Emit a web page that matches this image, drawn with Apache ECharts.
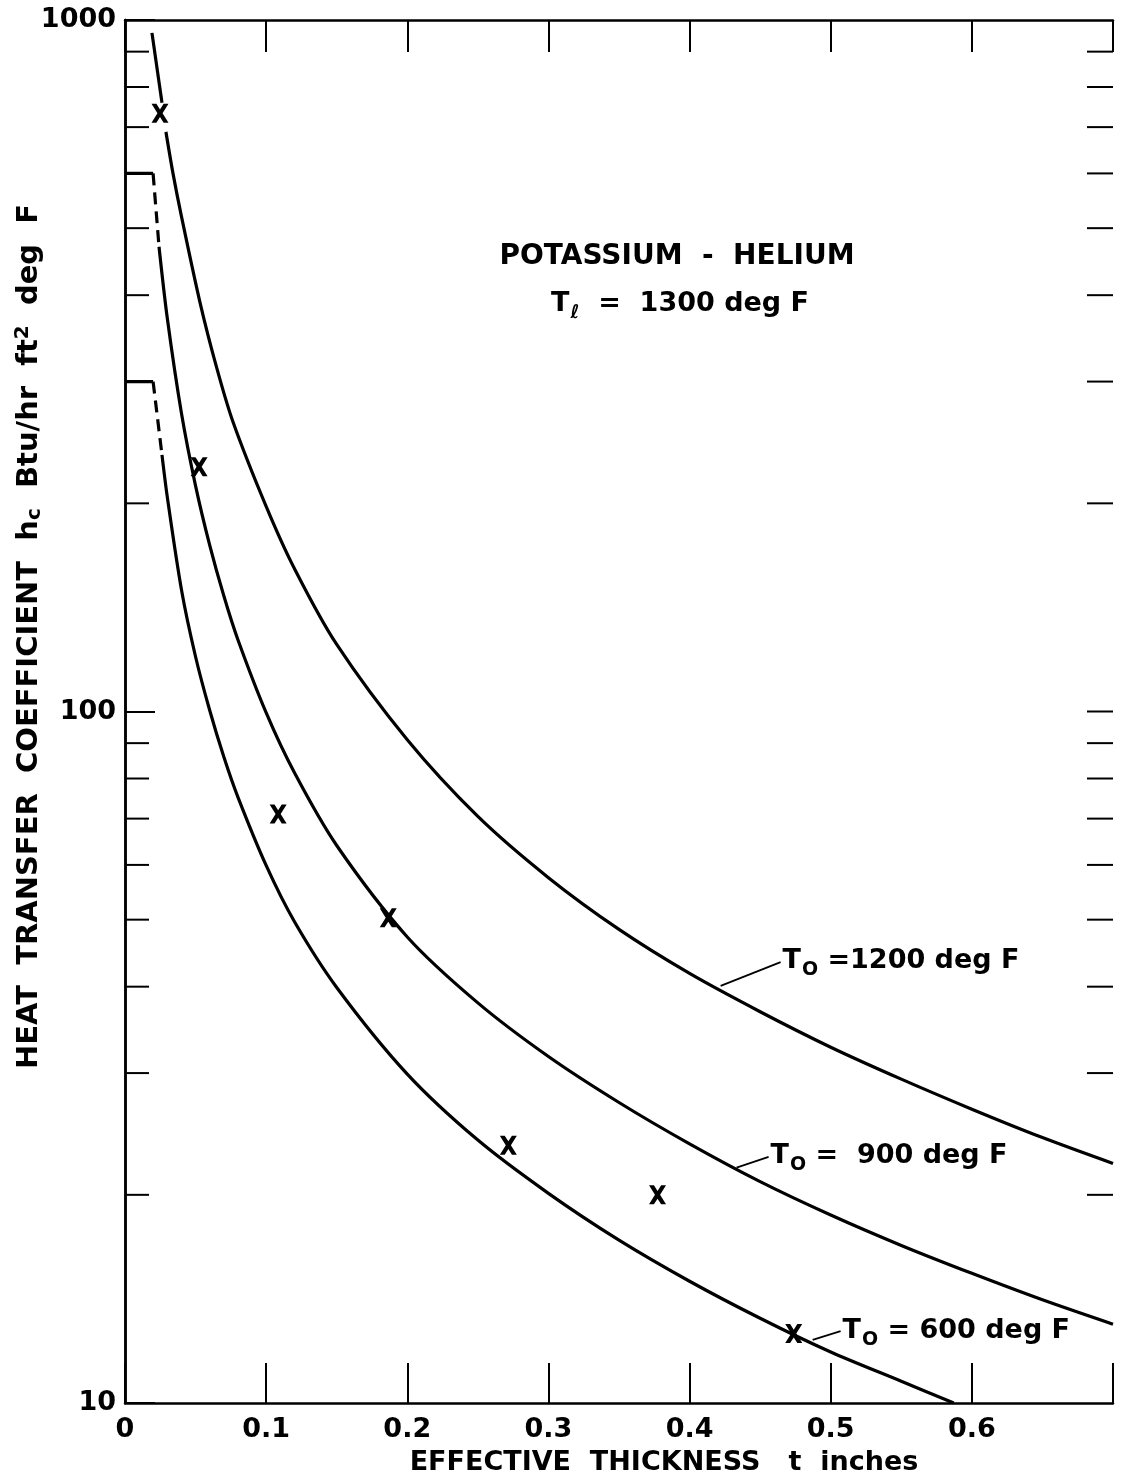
<!DOCTYPE html>
<html>
<head>
<meta charset="utf-8">
<script src="https://cdn.jsdelivr.net/npm/echarts@6/dist/echarts.min.js"></script>
<style>
  html, body { margin: 0; padding: 0; background: #fff; }
  #main { width: 1121px; height: 1483px; }
</style>
</head>
<body>
<div id="main"></div>
<script>
// effective thickness t (inches) vs heat transfer coefficient h_c
var curve1200Top = [[0.0191, 958], [0.0262, 759]];
var curve1200 = [[0.029, 689], [0.034, 600], [0.04, 520], [0.0532, 390], [0.065, 314],
  [0.0766, 262], [0.1, 198], [0.12, 161], [0.15, 125], [0.2, 91], [0.25, 70.5], [0.3, 57.5],
  [0.35, 48.4], [0.4, 41.8], [0.45, 36.8], [0.5, 32.7], [0.55, 29.4], [0.6, 26.6],
  [0.65, 24.2], [0.7, 22.2]];

var bracket900 = [[0, 600], [0.0199, 600]];
var dashed900 = [[0.0199, 600], [0.0241, 470]];
var curve900 = [[0.0241, 470], [0.03, 370], [0.04, 270], [0.05, 212], [0.06, 174], [0.07, 147],
  [0.08, 127], [0.1, 99.6], [0.12, 81.6], [0.15, 64.0], [0.2, 47.2], [0.25, 37.9], [0.3, 31.7],
  [0.35, 27.2], [0.4, 23.7], [0.45, 20.9], [0.5, 18.7], [0.55, 16.9], [0.6, 15.4],
  [0.65, 14.1], [0.7, 13.0]];

var bracket600 = [[0, 300], [0.0199, 300]];
var dashed600 = [[0.0199, 300], [0.0262, 235]];
var curve600 = [[0.0262, 235], [0.03, 204], [0.04, 150], [0.05, 120], [0.06, 100.4], [0.07, 86],
  [0.08, 75.2], [0.1, 59.9], [0.12, 49.7], [0.15, 39.9], [0.2, 29.9], [0.25, 24.0], [0.3, 20.1],
  [0.35, 17.2], [0.4, 15.0], [0.45, 13.26], [0.5, 11.85], [0.55, 10.75], [0.5872, 10.0]];

// measured points (X)
var measured = [[0.0248, 733], [0.0525, 226], [0.1085, 71.1], [0.1865, 50.3],
  [0.2716, 23.6], [0.3773, 20.0], [0.4738, 12.6]];

// log minor ticks on the side axes
var leftTicks = [20, 30, 40, 50, 60, 70, 80, 90, 200, 300, 400, 500, 600, 700, 800, 900];
var rightTicks = [20, 30, 40, 50, 60, 70, 80, 90, 100, 200, 300, 400, 500, 600, 700, 800, 900];
var xTickLabels = ['0', '0.1', '0.2', '0.3', '0.4', '0.5', '0.6'];

var FONT = 'DejaVu Sans';
var INK = '#000';

var xSym = 'path://M0,0 L4.6,0 L8,5.4 L11.4,0 L16,0 L10.4,9 L16,18 L11.4,18 L8,12.6 L4.6,18 L0,18 L5.6,9 Z';

var subRich = {
  t: { fontSize: 27, fontFamily: FONT, fontWeight: 'bold', color: INK },
  s: { fontSize: 19, fontFamily: FONT, fontWeight: 'bold', color: INK, padding: [18, 0, 0, 1] },
  r: { fontSize: 27, fontFamily: FONT, fontWeight: 'bold', color: INK }
};

function curveLabel(tail, tip, text) {
  return {
    symbol: ['none', 'arrow'],
    symbolSize: [0, 13],
    lineStyle: { color: INK, width: 1.8, type: 'solid' },
    label: { show: true, position: 'start', distance: 2, formatter: text, rich: subRich },
    emphasis: { disabled: true },
    silent: true,
    data: [[{ coord: tail }, { coord: tip }]]
  };
}

function solid(data, extra) {
  var s = {
    type: 'line', data: data, smooth: 0.3, symbol: 'none',
    lineStyle: { color: INK, width: 3.2 }, silent: true, z: 3
  };
  for (var k in extra) s[k] = extra[k];
  return s;
}

function sideTicks(values, atX, len) {
  return {
    type: 'custom', data: values.map(function (v) { return [atX, v]; }),
    silent: true, z: 2, clip: false,
    renderItem: function (params, api) {
      var p = api.coord([api.value(0), api.value(1)]);
      var dir = api.value(0) > 0 ? -1 : 1;
      return {
        type: 'line',
        shape: { x1: p[0], y1: p[1], x2: p[0] + dir * len, y2: p[1] },
        style: { stroke: INK, lineWidth: 2 }
      };
    }
  };
}

var chart = echarts.init(document.getElementById('main'));
chart.setOption({
  animation: false,
  backgroundColor: '#fff',
  grid: { left: 125, right: 8, top: 20, bottom: 80, outerBoundsMode: 'none', containLabel: false },
  xAxis: [{
    type: 'value', min: 0, max: 0.7, interval: 0.1, position: 'bottom',
    axisLine: { lineStyle: { color: INK, width: 2.5 } },
    axisTick: { inside: true, length: 40, lineStyle: { color: INK, width: 2 } },
    axisLabel: {
      color: INK, fontSize: 27, fontFamily: FONT, fontWeight: 'bold', margin: 13,
      formatter: function (v) {
        var i = Math.round(v * 10);
        return xTickLabels[i] || '';
      }
    },
    splitLine: { show: false },
    name: 'EFFECTIVE  THICKNESS   t  inches',
    nameLocation: 'middle', nameGap: 46, nameMoveOverlap: false,
    nameTextStyle: { color: INK, fontSize: 27, fontFamily: FONT, fontWeight: 'bold', padding: [0, 0, 0, 90] }
  }, {
    type: 'value', min: 0, max: 0.7, interval: 0.1, position: 'top',
    axisLine: { lineStyle: { color: INK, width: 2.5 } },
    axisTick: { inside: true, length: 32, lineStyle: { color: INK, width: 2 } },
    axisLabel: { show: false }, splitLine: { show: false }
  }],
  yAxis: [{
    type: 'log', logBase: 10, min: 10, max: 1000, position: 'left',
    axisLine: { lineStyle: { color: INK, width: 2.5 } },
    axisTick: { inside: true, length: 30, lineStyle: { color: INK, width: 2 } },
    axisLabel: {
      color: INK, fontSize: 27, fontFamily: FONT, fontWeight: 'bold', margin: 9,
      formatter: function (v) { return String(Math.round(v)); }
    },
    splitLine: { show: false },
    name: 'HEAT  TRANSFER  COEFFICIENT  h{s|c}  Btu/hr  ft{p|2}  deg  F',
    nameLocation: 'middle', nameGap: 80, nameMoveOverlap: false,
    nameTextStyle: {
      color: INK, fontSize: 29, fontFamily: FONT, fontWeight: 'bold', padding: [0, 0, 0, 150],
      rich: {
        s: { fontSize: 20, fontFamily: FONT, fontWeight: 'bold', color: INK, padding: [12, 0, 0, 0] },
        p: { fontSize: 20, fontFamily: FONT, fontWeight: 'bold', color: INK, padding: [0, 0, 12, 0] }
      }
    }
  }, {
    type: 'log', logBase: 10, min: 10, max: 1000, position: 'right',
    axisLine: { lineStyle: { color: INK, width: 2.5 } },
    axisTick: { show: false },
    axisLabel: { show: false }, splitLine: { show: false }
  }],
  graphic: [{
    type: 'text', x: 677, y: 257,
    style: { text: 'POTASSIUM  -  HELIUM', align: 'center', verticalAlign: 'middle',
      fontSize: 28, fontFamily: FONT, fontWeight: 'bold', fill: INK }
  }, {
    type: 'text', x: 680, y: 304,
    style: { text: '{t|T}{s|ℓ}{r|  =  1300 deg F}', align: 'center', verticalAlign: 'middle', rich: subRich }
  }],
  series: [
    solid(curve1200Top),
    solid(curve1200, { markLine: curveLabel([0.4645, 43.4], [0.422, 40.1], '{t|T}{s|O}{r| =1200 deg F}') }),
    solid(bracket900, { smooth: false }),
    solid(dashed900, { smooth: false, lineStyle: { color: INK, width: 3.2, type: [12, 7] } }),
    solid(curve900, { markLine: curveLabel([0.456, 22.7], [0.4333, 21.9], '{t|T}{s|O}{r| =  900 deg F}') }),
    solid(bracket600, { smooth: false }),
    solid(dashed600, { smooth: false, lineStyle: { color: INK, width: 3.2, type: [12, 7] } }),
    solid(curve600, { markLine: curveLabel([0.507, 12.7], [0.4872, 12.34], '{t|T}{s|O}{r| = 600 deg F}') }),
    {
      type: 'scatter', data: measured, symbol: xSym, symbolSize: [17, 19],
      itemStyle: { color: INK, opacity: 1 }, silent: true, z: 4
    },
    sideTicks(leftTicks, 0, 24),
    sideTicks(rightTicks, 0.7, 26)
  ]
});
</script>
</body>
</html>
